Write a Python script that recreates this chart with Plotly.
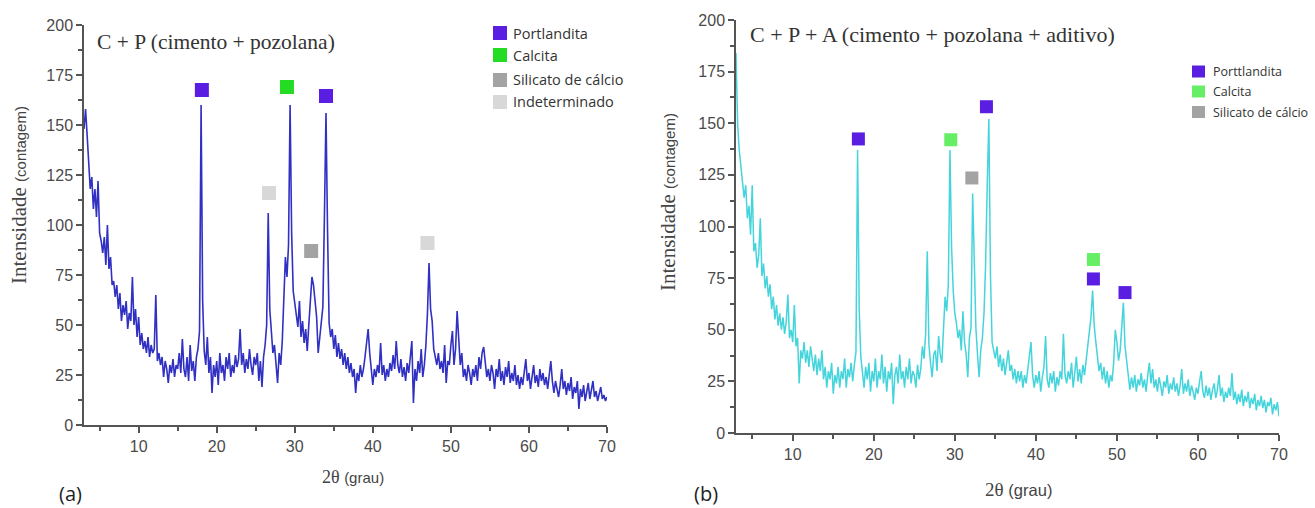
import plotly.graph_objects as go

# ---------------- data ----------------
x_start = 3.0
x_step = 0.2

# Panel (a): C + P  (3.0 .. 70.0 step 0.2)
int_a = [
    148, 158, 145, 130, 118,  124, 108, 118, 104, 122,
    96, 92, 86, 94, 80,  100, 78, 84, 70, 72,
    64, 70, 58, 66, 52,  60, 55, 62, 48, 56,
    52, 74, 50, 58, 44,  54, 40, 46, 38, 42,
    36, 44, 34, 40, 36,  38, 65, 32, 36, 30,
    34, 24, 32, 28, 21,  30, 26, 33, 24, 30,
    28, 36, 26, 43, 28,  24, 34, 22, 40, 27,
    32, 22, 34, 38, 47,  160, 62, 37, 30, 44,
    26, 34, 16, 30, 24,  32, 20, 36, 26, 30,
    22, 34, 28, 36, 24,  30, 26, 35, 29, 33,
    48, 30, 36, 26, 33,  28, 38, 30, 25, 34,
    30, 36, 22, 32, 19,  34, 40, 50, 106, 58,
    45, 36, 40, 32, 21,  36, 30, 42, 62, 84,
    74, 90, 160, 96, 67,  60, 54, 49, 62, 44,
    52, 41, 48, 37, 50,  62, 74, 70, 60, 54,
    36, 44, 52, 59, 104,  156, 97, 51, 44, 48,
    38, 45, 34, 41, 33,  38, 30, 36, 28, 34,
    26, 31, 24, 28, 16,  26, 22, 30, 24, 28,
    34, 40, 48, 36, 26,  20, 28, 24, 30, 26,
    41, 25, 30, 22, 28,  24, 31, 27, 35, 28,
    42, 30, 26, 33, 24,  29, 22, 31, 26, 34,
    42, 11, 28, 22, 32,  26, 38, 24, 30, 40,
    56, 81, 58, 52, 38,  34, 30, 36, 28, 32,
    26, 40, 21, 32, 30,  40, 47, 30, 38, 57,
    42, 30, 36, 24, 28,  22, 30, 26, 20, 28,
    24, 30, 22, 34, 28,  36, 39, 30, 24, 28,
    22, 30, 26, 18, 28,  24, 33, 22, 27, 20,
    29, 24, 32, 21, 26,  22, 30, 20, 25, 18,
    24, 20, 28, 33, 22,  26, 18, 24, 30, 21,
    25, 19, 28, 22, 26,  20, 24, 18, 25, 32,
    22, 16, 22, 18, 14,  20, 28, 18, 22, 15,
    21, 17, 24, 13, 19,  16, 22, 8, 18, 14,
    20, 12, 17, 21, 13,  18, 22, 14, 17, 12,
    16, 19, 13, 15, 12,  14,
]

# Panel (b): C + P + A
int_b = [
    184, 150, 137, 130, 122,  114, 120, 104, 110, 96,
    120, 88, 92, 80, 86,  104, 76, 82, 70, 76,
    66, 72, 60, 66, 55,  62, 52, 58, 50, 56,
    48, 54, 67, 46, 50,  44, 62, 42, 46, 24,
    40, 36, 44, 34, 40,  32, 42, 36, 30, 38,
    28, 36, 30, 40, 26,  32, 22, 30, 26, 34,
    19, 28, 24, 32, 22,  30, 26, 36, 22, 31,
    27, 34, 25, 33, 39,  137, 60, 37, 30, 22,
    32, 26, 34, 20, 30,  25, 36, 22, 30, 26,
    38, 24, 32, 20, 30,  26, 34, 14, 28, 32,
    24, 38, 26, 30, 22,  32, 26, 36, 24, 30,
    28, 22, 33, 26, 31,  42, 36, 48, 88, 43,
    34, 27, 38, 40, 30,  47, 38, 34, 50, 66,
    59, 72, 137, 90, 69,  58, 53, 46, 50, 40,
    59, 44, 38, 27, 46,  51, 116, 76, 51, 38,
    27, 40, 46, 58, 82,  120, 152, 76, 44, 40,
    36, 42, 32, 38, 30,  36, 28, 34, 40, 30,
    33, 26, 31, 24, 30,  25, 30, 22, 28, 24,
    30, 36, 44, 28, 22,  28, 24, 30, 20, 27,
    32, 47, 26, 22, 29,  24, 30, 20, 27, 23,
    30, 26, 48, 28, 24,  30, 26, 34, 22, 29,
    37, 25, 31, 24, 33,  28, 35, 40, 50, 56,
    69, 52, 44, 36, 30,  34, 26, 32, 24, 30,
    22, 28, 25, 34, 50,  44, 35, 40, 52, 63,
    42, 34, 28, 21, 27,  22, 28, 20, 26, 23,
    29, 22, 26, 20, 28,  34, 24, 31, 22, 26,
    20, 27, 23, 18, 25,  22, 28, 19, 24, 21,
    27, 20, 24, 18, 23,  31, 19, 24, 20, 26,
    18, 23, 20, 16, 22,  19, 25, 30, 20, 17,
    23, 18, 22, 16, 21,  24, 17, 21, 28, 18,
    22, 15, 20, 17, 22,  18, 29, 16, 20, 14,
    19, 15, 21, 13, 18,  15, 20, 12, 17, 14,
    19, 11, 16, 13, 18,  12, 16, 10, 15, 13,
    17, 9, 14, 11, 15,  8,
]

two_theta_a = [round(x_start + i * x_step, 2) for i in range(len(int_a))]
two_theta_b = [round(x_start + i * x_step, 2) for i in range(len(int_b))]

# phase labels (position of the coloured squares)
a_port_x, a_port_y = [18.1, 34.0], [167.5, 164.5]
a_calc_x, a_calc_y = [29.0], [169]
a_sil_x, a_sil_y = [32.1], [87]
a_ind_x, a_ind_y = [26.7, 47.0], [116, 91]

b_port_x, b_port_y = [18.1, 33.9, 47.1, 51.0], [142.4, 158, 74.6, 68]
b_calc_x, b_calc_y = [29.5, 47.1], [142, 84]
b_sil_x, b_sil_y = [32.1], [123.5]

legend_a = ["Portlandita", "Calcita", "Silicato de cálcio", "Indeterminado"]
legend_b = ["Porttlandita", "Calcita", "Silicato de cálcio"]

COL_PORT = "#5A1EE3"
COL_CALC_A = "#25DC25"
COL_CALC_B = "#66EE66"
COL_SIL = "#A3A3A3"
COL_IND = "#D8D8D8"

W, H = 1315, 508

fig = go.Figure()

# spectra
fig.add_trace(go.Scatter(x=two_theta_a, y=int_a, mode="lines",
                         line=dict(color="#3030C2", width=1.6),
                         xaxis="x", yaxis="y", showlegend=False, hoverinfo="skip"))
fig.add_trace(go.Scatter(x=two_theta_b, y=int_b, mode="lines",
                         line=dict(color="#45D4DC", width=1.5),
                         xaxis="x2", yaxis="y2", showlegend=False, hoverinfo="skip"))


def sq(x, y, color, xa, ya, size):
    return go.Scatter(x=x, y=y, mode="markers", showlegend=False,
                      marker=dict(symbol="square", size=size, color=color,
                                  line=dict(width=0)),
                      xaxis=xa, yaxis=ya, hoverinfo="skip")


fig.add_trace(sq(a_port_x, a_port_y, COL_PORT, "x", "y", 14))
fig.add_trace(sq(a_calc_x, a_calc_y, COL_CALC_A, "x", "y", 14))
fig.add_trace(sq(a_sil_x, a_sil_y, COL_SIL, "x", "y", 14))
fig.add_trace(sq(a_ind_x, a_ind_y, COL_IND, "x", "y", 14))

fig.add_trace(sq(b_port_x, b_port_y, COL_PORT, "x2", "y2", 13))
fig.add_trace(sq(b_calc_x, b_calc_y, COL_CALC_B, "x2", "y2", 13))
fig.add_trace(sq(b_sil_x, b_sil_y, COL_SIL, "x2", "y2", 13))


def px_x(p):
    return p / W


def px_y(p):
    return 1 - p / H


axis_common = dict(showline=True, linecolor="#555555", linewidth=1.5,
                   ticks="outside", ticklen=6, tickwidth=1.5, tickcolor="#555555",
                   showgrid=False, zeroline=False, automargin=False,
                   tickfont=dict(family="Liberation Sans, Arial", size=16, color="#4a4a4a"))

xaxis_common = dict(axis_common, range=[3, 70], tick0=0, dtick=10,
                    minor=dict(ticks="outside", dtick=5, tick0=0, ticklen=4,
                               tickwidth=1.5, tickcolor="#555555"))
yaxis_common = dict(axis_common, range=[0, 200], tick0=0, dtick=25,
                    minor=dict(ticks="outside", dtick=12.5, tick0=0, ticklen=4,
                               tickwidth=1.5, tickcolor="#555555"))

fig.update_layout(
    width=W, height=H,
    margin=dict(l=0, r=0, t=0, b=0, autoexpand=False),
    paper_bgcolor="white", plot_bgcolor="white",
    showlegend=False,
    xaxis=dict(xaxis_common, domain=[px_x(84), px_x(607)], anchor="y"),
    yaxis=dict(yaxis_common, domain=[px_y(425), px_y(25)], anchor="x"),
    xaxis2=dict(xaxis_common, domain=[px_x(736), px_x(1279)], anchor="y2"),
    yaxis2=dict(yaxis_common, domain=[px_y(433), px_y(20)], anchor="x2"),
)

serif = "Liberation Serif, Times New Roman, serif"
sans = "Liberation Sans, Arial, sans-serif"
leg_font = "Open Sans, Liberation Sans, sans-serif"

ann = [
    # titles
    dict(text="C + P (cimento + pozolana)", x=px_x(95), y=px_y(42), xanchor="left",
         yanchor="middle", font=dict(family=serif, size=21.5, color="#333333")),
    dict(text="C + P + A (cimento + pozolana + aditivo)", x=px_x(748), y=px_y(35),
         xanchor="left", yanchor="middle", font=dict(family=serif, size=22, color="#333333")),
    # y titles
    dict(text="Intensidade&nbsp;<span style='font-family:Liberation Sans;font-size:15px'>(contagem)</span>",
         x=px_x(19), y=px_y(195), textangle=-90, xanchor="center", yanchor="middle",
         font=dict(family=serif, size=21, color="#444444")),
    dict(text="Intensidade&nbsp;<span style='font-family:Liberation Sans;font-size:15px'>(contagem)</span>",
         x=px_x(668), y=px_y(202), textangle=-90, xanchor="center", yanchor="middle",
         font=dict(family=serif, size=21, color="#444444")),
    # x titles
    dict(text="2θ <span style='font-family:Liberation Sans;font-size:15px'>(grau)</span>",
         x=px_x(353), y=px_y(477), xanchor="center", yanchor="middle",
         font=dict(family=serif, size=18, color="#444444")),
    dict(text="2θ <span style='font-family:Liberation Sans;font-size:16.5px'>(grau)</span>",
         x=px_x(1018), y=px_y(489), xanchor="center", yanchor="middle",
         font=dict(family=serif, size=19, color="#444444")),
    # panel labels
    dict(text="(a)", x=px_x(70), y=px_y(493), xanchor="center", yanchor="middle",
         font=dict(family=leg_font, size=20, color="#222222")),
    dict(text="(b)", x=px_x(706), y=px_y(493), xanchor="center", yanchor="middle",
         font=dict(family=leg_font, size=20, color="#222222")),
]

# manual legends (swatch + label)
shapes = []
leg_a_rows = [33, 55, 80, 102]
leg_a_cols = [COL_PORT, COL_CALC_A, COL_SIL, COL_IND]
for name, col, row in zip(legend_a, leg_a_cols, leg_a_rows):
    shapes.append(dict(type="rect", xref="paper", yref="paper",
                       x0=px_x(493), x1=px_x(507), y0=px_y(row + 7), y1=px_y(row - 7),
                       fillcolor=col, line=dict(width=0)))
    ann.append(dict(text=name, x=px_x(511), y=px_y(row), xanchor="left", yanchor="middle",
                    font=dict(family=leg_font, size=14.5, color="#333333")))

leg_b_rows = [71.5, 91.5, 112]
leg_b_cols = [COL_PORT, COL_CALC_B, COL_SIL]
for name, col, row in zip(legend_b, leg_b_cols, leg_b_rows):
    shapes.append(dict(type="rect", xref="paper", yref="paper",
                       x0=px_x(1192), x1=px_x(1205), y0=px_y(row + 6), y1=px_y(row - 6),
                       fillcolor=col, line=dict(width=0)))
    ann.append(dict(text=name, x=px_x(1211), y=px_y(row), xanchor="left", yanchor="middle",
                    font=dict(family=leg_font, size=12.5, color="#333333")))

for a in ann:
    a.update(xref="paper", yref="paper", showarrow=False)
fig.update_layout(annotations=ann, shapes=shapes)

fig.write_html("out.html")
